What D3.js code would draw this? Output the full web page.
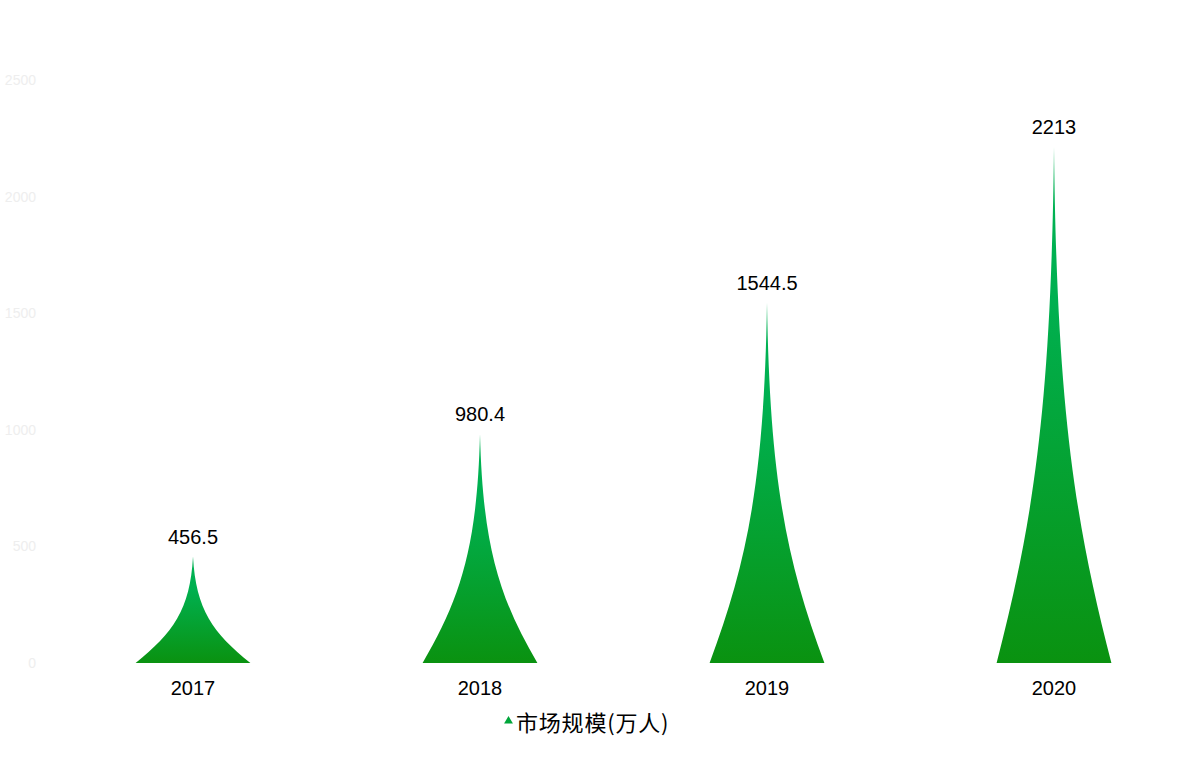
<!DOCTYPE html>
<html>
<head>
<meta charset="utf-8">
<script src="https://cdn.jsdelivr.net/npm/d3@7/dist/d3.min.js"></script>
<style>
  html, body { margin: 0; padding: 0; background: #fff; }
  svg { display: block; }
</style>
</head>
<body>
<svg id="chart" width="1200" height="777"></svg>
<script>
const categories = ["2017", "2018", "2019", "2020"];
const values = [456.5, 980.4, 1544.5, 2213];
const yTicks = [0, 500, 1000, 1500, 2000, 2500];
const seriesName = "市场规模(万人)";

const svg = d3.select("#chart");
const grid = { left: 49.5, right: 1197.5, top: 80, bottom: 663 };

const x = d3.scaleBand().domain(categories).range([grid.left, grid.right]).padding(0);
const y = d3.scaleLinear().domain([0, 2500]).range([grid.bottom, grid.top]);

const defs = svg.append("defs");
const grad = defs.append("linearGradient")
  .attr("id", "g").attr("x1", 0).attr("y1", 0).attr("x2", 0).attr("y2", 1);
grad.append("stop").attr("offset", "0").attr("stop-color", "#00b254");
grad.append("stop").attr("offset", "0.3").attr("stop-color", "#00b050");
grad.append("stop").attr("offset", "1").attr("stop-color", "#0a9210");

// y axis labels
const yAxis = d3.axisLeft(y).tickValues(yTicks).tickFormat(d3.format("d")).tickSize(0).tickPadding(0);
const yg = svg.append("g").attr("transform", "translate(36,0)").call(yAxis);
yg.select(".domain").remove();
yg.selectAll("text")
  .attr("fill", "#eeeeee")
  .style("font-family", "'Liberation Sans', Arial, sans-serif")
  .style("font-size", "14px");

// x axis labels
const xAxis = d3.axisBottom(x).tickSize(0).tickPadding(0);
const xg = svg.append("g").attr("transform", `translate(0,${grid.bottom})`).call(xAxis);
xg.select(".domain").remove();
xg.selectAll("text")
  .attr("dy", null).attr("y", 32)
  .attr("fill", "#000")
  .style("font-family", "'Liberation Sans', Arial, sans-serif")
  .style("font-size", "20px");

function spike(cx, hw, base, top) {
  const h = base - top;
  return `M${cx - hw},${base} L${cx + hw},${base} ` +
    `C${cx + 0.35 * hw},${base - 0.28 * h} ${cx + 0.05 * hw},${base - 0.5 * h} ${cx},${top} ` +
    `C${cx - 0.05 * hw},${base - 0.5 * h} ${cx - 0.35 * hw},${base - 0.28 * h} ${cx - hw},${base} Z`;
}

const hw = x.bandwidth() * 0.4 / 2;
svg.append("g").selectAll("path")
  .data(values)
  .join("path")
  .attr("d", (d, i) => spike(x(categories[i]) + x.bandwidth() / 2, hw, y(0), y(d)))
  .attr("fill", "url(#g)");

svg.append("g").selectAll("text")
  .data(values)
  .join("text")
  .attr("x", (d, i) => x(categories[i]) + x.bandwidth() / 2)
  .attr("y", d => y(d) - 13)
  .attr("text-anchor", "middle")
  .attr("fill", "#000")
  .style("font-family", "'Liberation Sans', Arial, sans-serif")
  .style("font-size", "20px")
  .text(d => d);

// legend
const lg = svg.append("g");
lg.append("path")
  .attr("d", d3.symbol().type(d3.symbolTriangle).size(34)())
  .attr("transform", "translate(508.5,721)")
  .attr("fill", "#00a63a");
lg.append("text")
  .attr("x", 516)
  .attr("y", 721)
  .attr("dominant-baseline", "central")
  .attr("fill", "#000")
  .style("font-family", "'Noto Sans CJK SC', sans-serif")
  .style("font-size", "22px")
  .style("letter-spacing", "0.8px")
  .text(seriesName);
</script>
</body>
</html>
